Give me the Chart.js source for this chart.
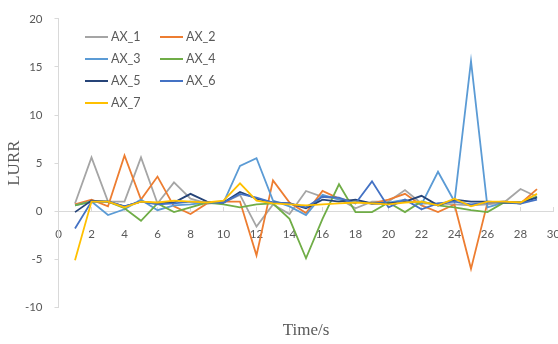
<!DOCTYPE html>
<html lang="en">
<head>
<meta charset="UTF-8">
<title>LURR</title>
<script src="https://cdn.jsdelivr.net/npm/chart.js"></script>
<style>
  html, body { margin: 0; padding: 0; background: #fff; }
</style>
</head>
<body>
<canvas id="chart" width="558" height="344"></canvas>
<script>
const times = [1, 2, 3, 4, 5, 6, 7, 8, 9, 10, 11, 12, 13, 14, 15, 16, 17, 18, 19, 20, 21, 22, 23, 24, 25, 26, 27, 28, 29];
const seriesNames = ["AX_1", "AX_2", "AX_3", "AX_4", "AX_5", "AX_6", "AX_7"];
const ax1 = [0.8, 5.6, 1.0, 1.0, 5.6, 0.8, 3.0, 1.3, 0.8, 0.9, 1.7, -1.6, 0.7, -0.3, 2.1, 1.5, 1.3, 0.3, 1.0, 1.0, 2.2, 0.8, 0.8, 0.7, 0.6, 0.7, 0.9, 2.3, 1.5];
const ax2 = [0.7, 1.2, 0.5, 5.8, 1.2, 3.6, 0.5, -0.3, 0.8, 1.0, 1.0, -4.6, 3.2, 0.9, -0.2, 2.1, 1.3, 1.0, 0.8, 1.2, 1.8, 0.6, -0.1, 0.7, -6.0, 0.9, 1.0, 0.8, 2.3];
const ax3 = [0.6, 1.0, -0.4, 0.2, 1.2, 0.1, 0.6, 0.7, 0.9, 0.9, 4.7, 5.5, 1.1, 0.5, -0.4, 1.7, 1.2, 1.0, 0.8, 0.9, 1.2, 0.7, 4.1, 1.0, 15.6, 0.4, 0.9, 0.8, 1.5];
const ax4 = [0.6, 1.0, 1.0, 0.3, -1.0, 0.8, -0.1, 0.4, 0.9, 0.7, 0.4, 0.7, 0.8, -0.8, -4.9, -0.8, 2.8, -0.1, -0.1, 0.9, -0.1, 1.0, 0.6, 0.4, 0.1, -0.1, 0.9, 0.9, 1.5];
const ax5 = [-0.1, 1.1, 1.0, 0.5, 1.0, 0.8, 0.9, 1.8, 1.0, 0.9, 2.0, 1.3, 0.9, 0.8, 0.3, 1.2, 1.0, 1.2, 0.8, 0.8, 1.0, 1.6, 0.6, 1.2, 1.0, 1.0, 0.9, 0.9, 1.4];
const ax6 = [-1.8, 1.0, 1.0, 0.5, 1.0, 0.7, 0.8, 1.0, 0.9, 0.9, 1.8, 1.4, 0.9, 0.8, 0.4, 1.5, 1.4, 0.8, 3.1, 0.4, 1.2, 0.2, 0.8, 1.0, 0.7, 0.9, 1.0, 0.8, 1.2];
const ax7 = [-5.1, 1.0, 1.0, 0.4, 1.0, 0.9, 1.1, 1.0, 0.9, 1.1, 2.9, 1.1, 0.8, 0.7, 0.6, 0.7, 0.8, 0.9, 0.8, 0.7, 0.9, 1.0, 0.6, 1.3, 0.5, 1.0, 1.0, 0.9, 1.8];
const colors = ["#A5A5A5", "#ED7D31", "#5B9BD5", "#70AD47", "#264478", "#4472C4", "#FFC000"];

const allSeries = [ax1, ax2, ax3, ax4, ax5, ax6, ax7];
const textColor = "#595959";
const axisColor = "#D9D9D9";

// legend in two columns inside the plot, like the excel one
const legendBox = {
  id: "legendBox",
  afterDraw(chart) {
    const ctx = chart.ctx;
    ctx.save();
    ctx.font = "12.5px Lato";
    ctx.fillStyle = textColor;
    ctx.textBaseline = "middle";
    chart.data.datasets.forEach((ds, i) => {
      const x = 85 + (i % 2) * 75;
      const y = 37 + Math.floor(i / 2) * 22;
      ctx.strokeStyle = ds.borderColor;
      ctx.lineWidth = 2;
      ctx.beginPath();
      ctx.moveTo(x, y);
      ctx.lineTo(x + 23, y);
      ctx.stroke();
      ctx.fillText(ds.label, x + 26, y);
    });
    ctx.restore();
  }
};

new Chart(document.getElementById("chart"), {
  type: "line",
  data: {
    datasets: allSeries.map((vals, i) => ({
      label: seriesNames[i],
      data: times.map((t, j) => ({ x: t, y: vals[j] })),
      borderColor: colors[i],
      backgroundColor: colors[i],
      borderWidth: 1.8,
      pointRadius: 0,
      tension: 0,
      fill: false,
      order: allSeries.length - i
    }))
  },
  options: {
    responsive: false,
    animation: false,
    layout: { padding: { top: 14, right: 4.5, bottom: 0, left: 0 } },
    plugins: {
      legend: { display: false },
      tooltip: { enabled: false }
    },
    scales: {
      x: {
        type: "linear",
        position: { y: 0 },
        min: 0,
        max: 30,
        ticks: { stepSize: 2, color: textColor, font: { family: "Lato", size: 11.5 }, padding: 21, maxRotation: 0 },
        grid: { drawOnChartArea: false, drawTicks: true, tickLength: -5, tickColor: axisColor },
        border: { color: axisColor },
        afterFit(scale) { scale.paddingLeft = 0; scale.paddingRight = 0; }
      },
      x2: {
        type: "linear",
        position: "bottom",
        min: 0,
        max: 30,
        ticks: { display: false },
        grid: { display: false },
        border: { display: false },
        title: { display: true, text: "Time/s", color: textColor, font: { family: "Liberation Serif", size: 17 }, padding: { top: 0, bottom: 3 } },
        afterFit(scale) { scale.height = 36.7; }
      },
      y: {
        min: -10,
        max: 20,
        ticks: { stepSize: 5, color: textColor, font: { family: "Lato", size: 11.5 }, padding: 12 },
        grid: { drawOnChartArea: false, drawTicks: true, tickLength: 4, tickColor: axisColor },
        border: { color: axisColor },
        title: { display: true, text: "LURR", color: textColor, font: { family: "Liberation Serif", size: 17 }, padding: { top: 4, bottom: 0 } },
        afterFit(scale) { scale.width = 58.5; }
      }
    }
  },
  plugins: [legendBox]
});
</script>
</body>
</html>
